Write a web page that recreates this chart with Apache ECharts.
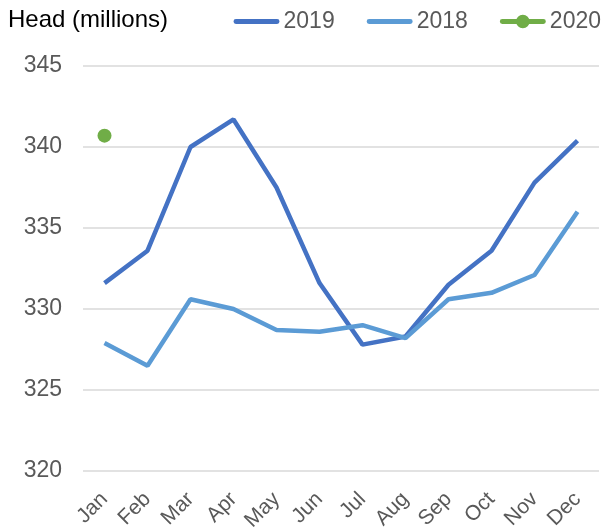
<!DOCTYPE html>
<html>
<head>
<meta charset="utf-8">
<script src="https://cdn.jsdelivr.net/npm/echarts@6/dist/echarts.min.js"></script>
<style>
  html, body { margin: 0; padding: 0; background: #fff; }
  #chart { width: 606px; height: 531px; }
</style>
</head>
<body>
<div id="chart"></div>
<script>
const months = ['Jan','Feb','Mar','Apr','May','Jun','Jul','Aug','Sep','Oct','Nov','Dec']
const head2019 = [331.6, 333.6, 340.0, 341.7, 337.5, 331.6, 327.8, 328.3, 331.5, 333.6, 337.8, 340.4]
const head2018 = [327.9, 326.5, 330.6, 330.0, 328.7, 328.6, 329.0, 328.2, 330.6, 331.0, 332.1, 336.0]
const head2020 = [340.7, null, null, null, null, null, null, null, null, null, null, null]

// legend icons: plain line, and line with a dot
const lineIcon = 'path://M2,5 L44,5 A2.5,2.5 0 0,1 44,10 L2,10 A2.5,2.5 0 0,1 2,5 Z'
const dotIcon = 'path://M2,5 L44,5 A2.5,2.5 0 0,1 44,10 L2,10 A2.5,2.5 0 0,1 2,5 Z M23,0.5 A7,7 0 1,1 23,14.5 A7,7 0 1,1 23,0.5 Z'

let chart = echarts.init(document.getElementById('chart'))
let option = {
  animation: false,
  textStyle: { fontFamily: 'Liberation Sans, Arial, sans-serif' },
  title: {
    text: 'Head (millions)',
    left: 3,
    top: 3,
    textStyle: { fontSize: 24, fontWeight: 'normal', color: '#000' }
  },
  legend: {
    right: 0,
    top: 5,
    itemWidth: 46,
    itemHeight: 15,
    itemGap: 32,
    symbolKeepAspect: true,
    textStyle: { fontSize: 23, color: '#595959', padding: [0, 0, 0, -1] },
    data: [
      { name: '2019', icon: lineIcon },
      { name: '2018', icon: lineIcon },
      { name: '2020', icon: dotIcon }
    ]
  },
  grid: { left: 83, right: 7, top: 66, bottom: 60, outerBoundsMode: 'none' },
  xAxis: {
    type: 'category',
    data: months,
    boundaryGap: true,
    axisLine: { show: false },
    axisTick: { show: false },
    axisLabel: { rotate: 45, fontSize: 21, color: '#595959', margin: 25 }
  },
  yAxis: {
    type: 'value',
    min: 320,
    max: 345,
    interval: 5,
    axisLine: { show: false },
    axisTick: { show: false },
    axisLabel: { fontSize: 23, color: '#595959', margin: 21 },
    splitLine: { lineStyle: { color: '#d9d9d9', width: 1.5 } }
  },
  series: [
    {
      name: '2019', type: 'line', data: head2019,
      showSymbol: false, symbol: 'none',
      color: '#4472C4', lineStyle: { width: 4.5, color: '#4472C4' }
    },
    {
      name: '2018', type: 'line', data: head2018,
      showSymbol: false, symbol: 'none',
      color: '#5B9BD5', lineStyle: { width: 4.5, color: '#5B9BD5' }
    },
    {
      name: '2020', type: 'line', data: head2020,
      symbol: 'circle', symbolSize: 14, showSymbol: true,
      color: '#70AD47', itemStyle: { color: '#70AD47' },
      lineStyle: { width: 4.5, color: '#70AD47' }
    }
  ]
}
chart.setOption(option)
</script>
</body>
</html>
